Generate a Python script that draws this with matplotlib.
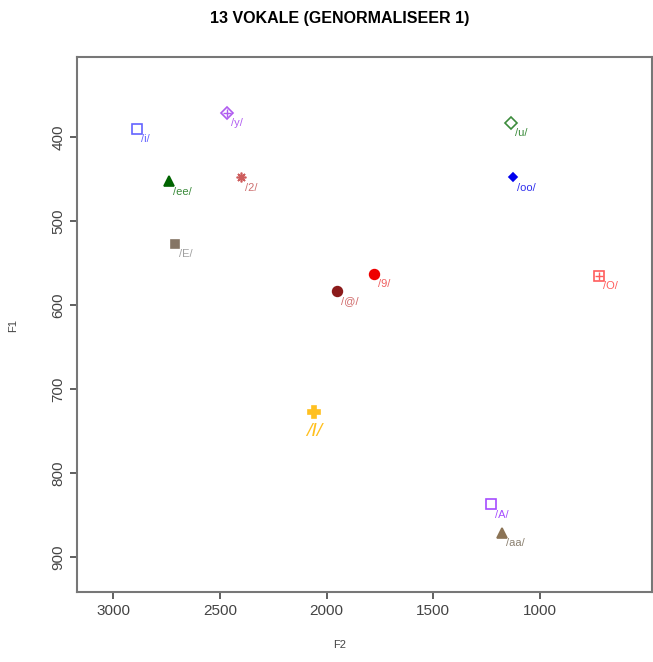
import matplotlib
matplotlib.use("Agg")
import matplotlib.pyplot as plt

plt.rcParams['font.family'] = ['Liberation Sans', 'DejaVu Sans']

# vowel formant means (F2, F1)
vowels = ['/i/', '/y/', '/ee/', '/2/', '/E/', '/@/', '/9/', '/I/',
          '/u/', '/oo/', '/O/', '/A/', '/aa/']
f2 = [2890, 2466, 2738, 2400, 2710, 1951, 1777, 2058, 1136, 1125, 724, 1228, 1177]
f1 = [390, 371, 453, 448, 527, 583, 563, 727, 383, 448, 565, 837, 871]

xticks = [3000, 2500, 2000, 1500, 1000]
yticks = [400, 500, 600, 700, 800, 900]

# marker styles per vowel: (marker, filled, colour, label colour, size)
styles = [
    ('s', False, '#6464ff', '#6464ff', 7),
    ('D', False, '#b05cf0', '#b05cf0', 6.5),
    ('^', True, '#006400', '#3a8a3a', 7),
    ((8, 2, 0), False, '#cd5c5c', '#cd7070', 7),
    ('s', True, '#857565', '#a0a0a0', 6),
    ('o', True, '#8b1a1a', '#d06a6a', 7),
    ('o', True, '#ee0000', '#f06060', 7),
    ('P', True, '#ffc020', '#ffc020', 8),
    ('D', False, '#3c8c3c', '#3c8c3c', 6.5),
    ('D', True, '#0000ee', '#3030ee', 4.5),
    ('s', False, '#ff5c5c', '#ff5c5c', 6.5),
    ('s', False, '#a64dff', '#a64dff', 7),
    ('^', True, '#8b7355', '#8b8070', 7),
]

fig = plt.figure(figsize=(6.53, 6.62), dpi=100)
ax = fig.add_axes([77 / 653, 70 / 662, 575 / 653, 535 / 662])

for i, v in enumerate(vowels):
    m, filled, c, lc, ms = styles[i]
    fc = c if filled else 'none'
    ax.plot(f2[i], f1[i], marker=m, ms=ms, mfc=fc, mec=c, mew=1.2, ls='none')
    if v == '/y/' or v == '/O/':
        ax.plot(f2[i], f1[i], marker='+', ms=ms - 1, mec=c, mew=1.0, ls='none')
    if v == '/I/':
        ax.annotate(v, (f2[i], f1[i]), xytext=(0, -8), textcoords='offset points',
                    ha='center', va='top', color=lc, fontsize=14, style='italic')
    else:
        ax.annotate(v, (f2[i], f1[i]), xytext=(3, -4), textcoords='offset points',
                    ha='left', va='top', color=lc, fontsize=8)

ax.set_xlim(3169, 475)
ax.set_ylim(941.7, 304.8)
ax.set_xticks(xticks)
ax.set_yticks(yticks)
ax.set_yticklabels([str(t) for t in yticks], rotation=90, va='center')
ax.tick_params(colors='#444444', labelsize=11, length=5, width=1.2)
for s in ax.spines.values():
    s.set_color('#777777')
    s.set_linewidth(1.5)

fig.text(340 / 653, 1 - 645 / 662, 'F2', fontsize=8, color='#444444',
         ha='center', va='center')
fig.text(13 / 653, 1 - 326 / 662, 'F1', fontsize=8, color='#444444',
         ha='center', va='center', rotation=90)
fig.text(340 / 653, 1 - 19 / 662, '13 VOKALE (GENORMALISEER 1)', fontsize=11.5,
         fontweight='bold', ha='center', va='center')

fig.savefig('out.png', dpi=100)
